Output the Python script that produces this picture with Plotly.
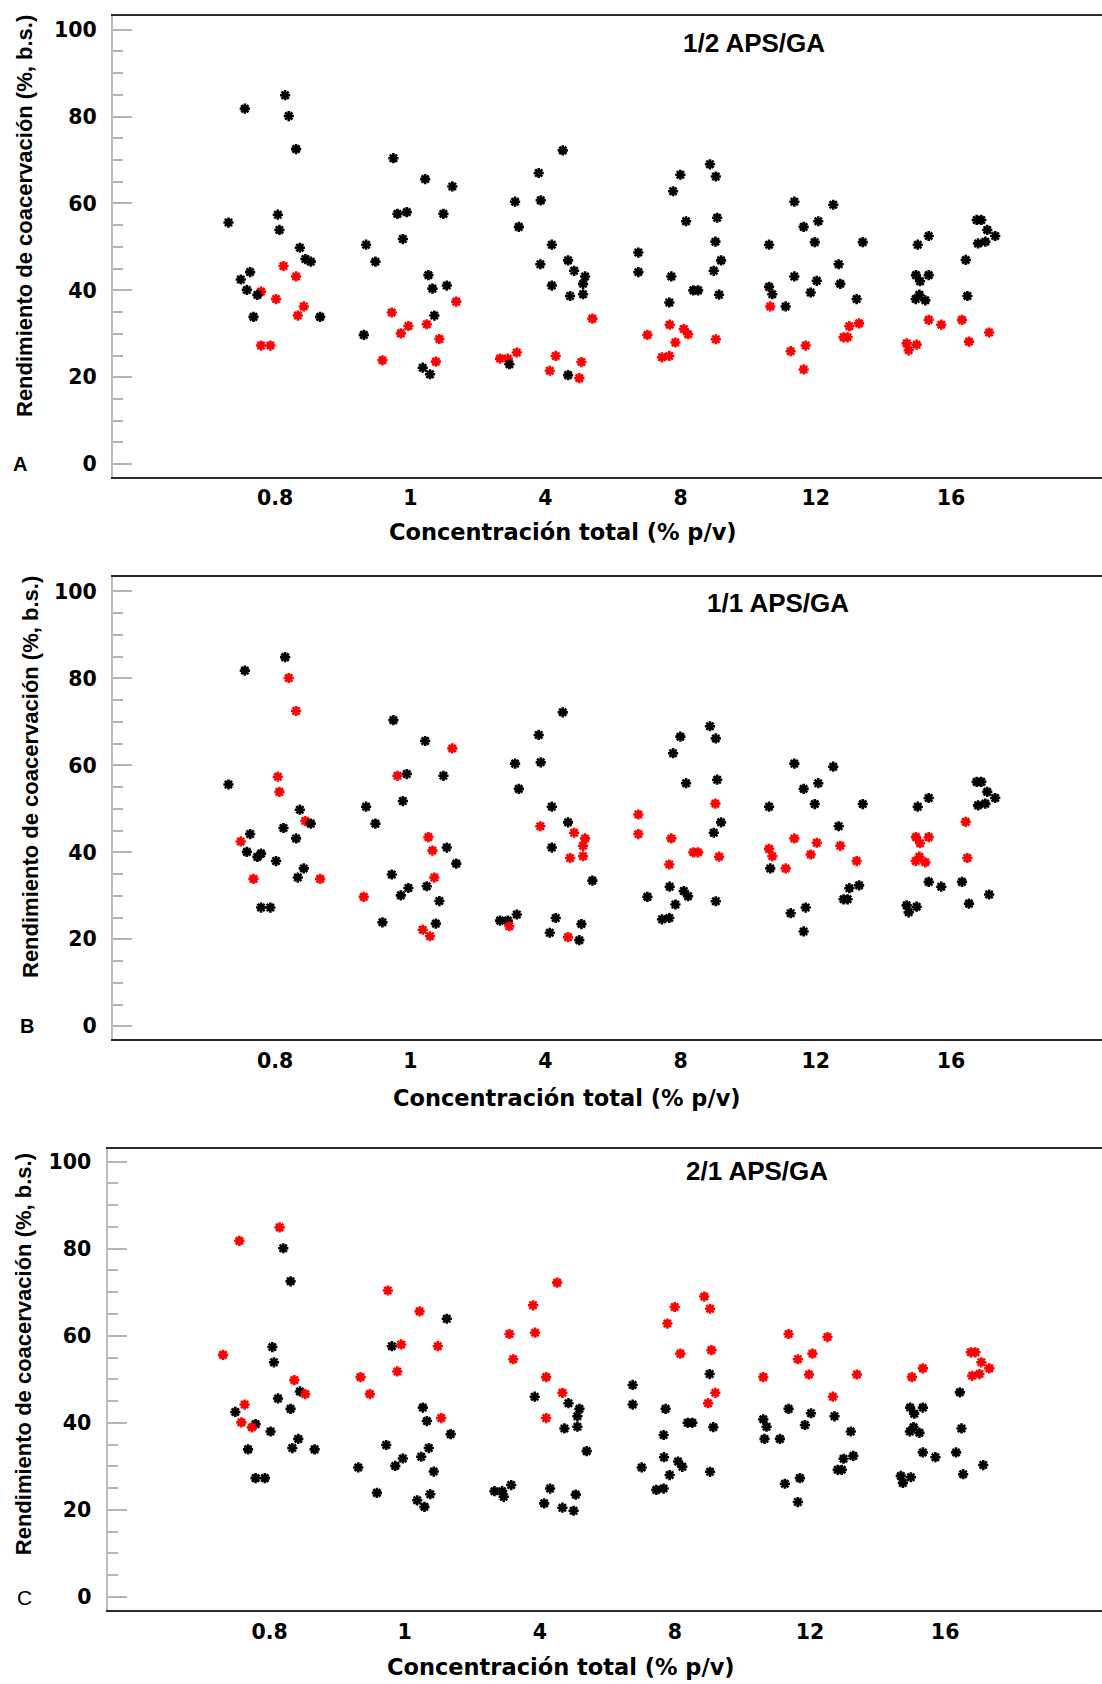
import plotly.graph_objects as go

W, H = 1102, 1684

# Total concentration levels (% p/v) shown on the x axis
concentrations = ["0.8", "1", "4", "8", "12", "16"]

# Coacervation yield (%, dry basis), 8 replicates per concentration, by APS/GA ratio
yield_1_2 = [
    [45.6, 43.2, 39.7, 38.0, 36.3, 34.2, 27.3, 27.3],
    [37.4, 34.9, 32.2, 31.8, 30.1, 28.8, 23.9, 23.6],
    [33.5, 25.7, 24.3, 24.3, 24.9, 23.5, 21.5, 19.8],
    [32.1, 29.75, 31.1, 29.9, 28.0, 28.75, 24.6, 24.9],
    [36.3, 31.75, 32.4, 29.2, 29.2, 27.3, 26.0, 21.8],
    [33.2, 32.1, 33.2, 30.3, 28.2, 27.8, 27.5, 26.2],
]
yield_1_1 = [
    [80.1, 72.5, 57.4, 53.9, 47.2, 42.5, 33.9, 33.9],
    [63.9, 57.6, 43.5, 40.4, 34.2, 29.75, 22.2, 20.7],
    [46.0, 44.5, 43.2, 41.5, 38.7, 39.1, 23.0, 20.5],
    [51.2, 48.7, 44.2, 43.2, 40.0, 40.0, 39.0, 37.2],
    [43.2, 42.2, 41.5, 40.8, 39.1, 39.5, 38.0, 36.3],
    [47.0, 43.5, 43.5, 42.1, 39.0, 38.0, 37.7, 38.7],
]
yield_2_1 = [
    [84.9, 81.8, 55.6, 49.8, 46.6, 44.2, 40.1, 38.96],
    [70.4, 65.6, 58.0, 57.6, 51.8, 50.5, 46.6, 41.1],
    [72.2, 67.0, 60.4, 60.7, 54.6, 50.5, 46.9, 41.1],
    [69.0, 66.6, 66.2, 62.8, 55.9, 56.7, 46.9, 44.5],
    [60.4, 59.7, 54.6, 55.9, 50.5, 51.1, 51.1, 46.0],
    [56.2, 56.2, 53.9, 52.5, 52.5, 50.5, 50.8, 51.2],
]

# Horizontal jitter (category units) of each replicate around its concentration
jitter_1_2 = [
    [0.062, 0.155, -0.104, 0.007, 0.212, 0.168, -0.104, -0.035],
    [0.34, -0.137, 0.122, -0.014, -0.07, 0.215, -0.206, 0.189],
    [0.347, -0.212, -0.336, -0.279, 0.076, 0.266, 0.032, 0.25],
    [-0.081, -0.246, 0.023, 0.055, -0.039, 0.26, -0.138, -0.084],
    [-0.337, 0.248, 0.32, 0.205, 0.235, -0.075, -0.186, -0.09],
    [-0.165, -0.072, 0.081, 0.282, 0.133, -0.328, -0.254, -0.313],
]
jitter_1_1 = [
    [0.101, 0.155, 0.02, 0.032, 0.224, -0.254, -0.16, 0.333],
    [0.311, -0.095, 0.134, 0.164, 0.178, -0.344, 0.092, 0.146],
    [-0.038, 0.212, 0.293, 0.278, 0.182, 0.278, -0.267, 0.167],
    [0.257, -0.313, -0.313, -0.069, 0.094, 0.129, 0.284, -0.084],
    [-0.159, 0.007, 0.181, -0.346, -0.322, -0.038, 0.302, -0.223],
    [0.109, -0.259, -0.165, -0.229, -0.234, -0.261, -0.19, 0.121],
]
jitter_2_1 = [
    [0.074, -0.224, -0.345, 0.183, 0.264, -0.185, -0.209, -0.131],
    [-0.125, 0.11, -0.026, 0.245, -0.055, -0.327, -0.258, 0.27],
    [0.128, -0.05, -0.225, -0.035, -0.197, 0.047, 0.167, 0.047],
    [0.217, -0.002, 0.26, -0.056, 0.04, 0.27, 0.299, 0.245],
    [-0.159, 0.129, -0.09, 0.018, -0.346, -0.008, 0.347, 0.169],
    [0.19, 0.224, 0.268, 0.327, -0.165, -0.246, 0.2, 0.254],
]

ratio_names = ["1/2 APS/GA", "1/1 APS/GA", "2/1 APS/GA"]
ratio_yields = [yield_1_2, yield_1_1, yield_2_1]
ratio_jitter = [jitter_1_2, jitter_1_1, jitter_2_1]

# Panel geometry in pixels (left edge of plot area, top, bottom)
panels = [
    dict(letter="A", left=112.9, top=16.1, bottom=476.8, yr=[-2.9, 103.1], xr=[-1.2, 6.117],
         title_xy=(754, 43), xt_xy=(563, 532), yt_xy=(25, 216), let_xy=(19.6, 464.3), let_bold=True),
    dict(letter="B", left=112.9, top=577.1, bottom=1039.3, yr=[-3.0, 103.3], xr=[-1.2, 6.117],
         title_xy=(777.5, 603), xt_xy=(567, 1098), yt_xy=(30.4, 776.6), let_xy=(26.8, 1026), let_bold=True),
    dict(letter="C", left=107.5, top=1149.0, bottom=1610.0, yr=[-3.0, 102.9], xr=[-1.2, 6.161],
         title_xy=(757, 1171), xt_xy=(561, 1667), yt_xy=(23.2, 1354), let_xy=(24.3, 1597), let_bold=False),
]

tick_font = dict(family="DejaVu Sans", size=20.5, color="black", weight="bold")
xtitle_font = dict(family="DejaVu Sans", size=22.5, color="black", weight="bold")
ytitle_font = dict(family="Liberation Sans, Arial", size=22, color="black", weight="bold")
title_font = dict(family="Liberation Sans, Arial", size=26, color="black", weight="bold")

fig = go.Figure()
annotations = []
layout_axes = {}

for i, p in enumerate(panels):
    n = i + 1
    xa = "x" if n == 1 else f"x{n}"
    ya = "y" if n == 1 else f"y{n}"
    for r in range(3):
        xs, ys = [], []
        for k in range(len(concentrations)):
            for j, v in zip(ratio_jitter[r][k], ratio_yields[r][k]):
                xs.append(k + j)
                ys.append(v)
        color = "#ff0000" if r == i else "#000000"
        fig.add_trace(go.Scatter(
            x=xs, y=ys, mode="markers", xaxis=xa, yaxis=ya,
            name=ratio_names[r], showlegend=False,
            marker=dict(symbol="asterisk-open", size=8.5,
                        line=dict(color=color, width=2.6), color=color),
        ))

    layout_axes["xaxis" if n == 1 else f"xaxis{n}"] = dict(
        domain=[p["left"] / W, 1.0], range=p["xr"], anchor=ya,
        tickmode="array", tickvals=list(range(len(concentrations))), ticktext=concentrations,
        ticks="", showgrid=False, zeroline=False,
        showline=True, linecolor="#2a2a2a", linewidth=2, mirror=True,
        tickfont=tick_font, ticklabelstandoff=2, automargin=False,
    )
    layout_axes["yaxis" if n == 1 else f"yaxis{n}"] = dict(
        domain=[1 - p["bottom"] / H, 1 - p["top"] / H], range=p["yr"], anchor=xa,
        tickmode="linear", tick0=0, dtick=20,
        ticks="inside", ticklen=19, tickwidth=1.5, tickcolor="#b4b4b4",
        minor=dict(tickmode="linear", tick0=0, dtick=5, ticks="inside", ticklen=10,
                   tickwidth=1.5, tickcolor="#b4b4b4", showgrid=False),
        showgrid=False, zeroline=False,
        showline=True, linecolor="#bcbcbc", linewidth=2, mirror=False,
        tickfont=tick_font, ticklabelstandoff=10, automargin=False,
    )

    tx, ty = p["title_xy"]
    annotations.append(dict(text=ratio_names[i], x=tx / W, y=1 - ty / H, xref="paper", yref="paper",
                            xanchor="center", yanchor="middle", showarrow=False, font=title_font))
    cx, cy = p["xt_xy"]
    annotations.append(dict(text="Concentración total (% p/v)", x=cx / W, y=1 - cy / H,
                            xref="paper", yref="paper", xanchor="center", yanchor="middle",
                            showarrow=False, font=xtitle_font))
    yx, yy = p["yt_xy"]
    annotations.append(dict(text="Rendimiento de coacervación (%, b.s.)", x=yx / W, y=1 - yy / H,
                            xref="paper", yref="paper", xanchor="center", yanchor="middle",
                            textangle=-90, showarrow=False, font=ytitle_font))
    lx, ly = p["let_xy"]
    annotations.append(dict(text=p["letter"], x=lx / W, y=1 - ly / H, xref="paper", yref="paper",
                            xanchor="center", yanchor="middle", showarrow=False,
                            font=dict(family="Liberation Sans, Arial", size=20 if p["let_bold"] else 21,
                                      color="black", weight="bold" if p["let_bold"] else "normal")))

fig.update_layout(
    width=W, height=H,
    margin=dict(l=0, r=0, t=0, b=0, pad=0),
    paper_bgcolor="white", plot_bgcolor="white",
    showlegend=False,
    annotations=annotations,
    **layout_axes,
)

fig.write_html("out.html")
